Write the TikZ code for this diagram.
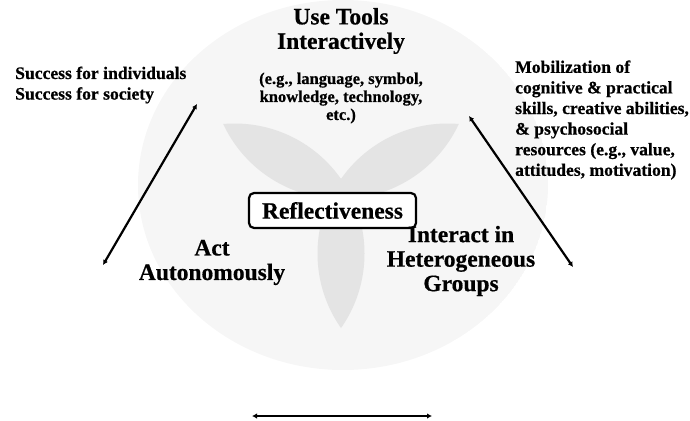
\documentclass[tikz,border=0pt]{standalone}
\usepackage{fontspec}
\setmainfont{Liberation Serif}[BoldFeatures={FakeBold=0.6}]
\usetikzlibrary{arrows.meta}
\begin{document}
\begin{tikzpicture}[x=1pt,y=-1pt,
  head/.style={font=\fontsize{23.5}{24.5}\selectfont\bfseries, align=center, inner sep=0pt},
  note/.style={font=\fontsize{17.6}{20.6}\selectfont\bfseries, align=left, inner sep=0pt, anchor=west},
  ex/.style={font=\fontsize{16.5}{18}\selectfont\bfseries, align=center, inner sep=0pt},
  link/.style={line width=2.2pt, {Latex[length=5pt,width=5.5pt]}-{Latex[length=5pt,width=5.5pt]}},
  refbox/.style={draw, line width=2.2pt, rounded corners=5pt, fill=white, minimum width=167pt, minimum height=35pt, inner sep=0pt, font=\fontsize{23.5}{24.5}\selectfont\bfseries},
  outer/.style={fill=gray!7},
  lens/.style={fill=gray!21}
]
\useasboundingbox (0,0) rectangle (690,420);
% background circles
\begin{scope}
  \clip (343,185) ellipse [x radius=205, y radius=185];
  \fill[outer] (343,185) ellipse [x radius=205, y radius=185];
  \begin{scope}
    \clip (341,69) circle [radius=130];
    \fill[lens] (234.5,253.5) circle [radius=130];
    \fill[lens] (447.5,253.5) circle [radius=130];
  \end{scope}
  \begin{scope}
    \clip (234.5,253.5) circle [radius=130];
    \fill[lens] (447.5,253.5) circle [radius=130];
  \end{scope}
\end{scope}
% texts
\node[head] (tools) at (341,31) {Use Tools\\Interactively};
\node[ex] (examples) at (341,98) {(e.g., language, symbol,\\knowledge, technology,\\etc.)};
\node[refbox] (reflect) at (332.5,210.5) {Reflectiveness};
\node[head] (auto) at (212,262.5) {Act\\Autonomously};
\node[head] (groups) at (461,261) {Interact in\\Heterogeneous\\Groups};
\node[note] (success) at (15,85) {Success for individuals\\Success for society};
\node[note] (mobil) at (515,120) {Mobilization of\\cognitive \& practical\\skills, creative abilities,\\\& psychosocial\\resources (e.g., value,\\attitudes, motivation)};
% arrows
\coordinate (la) at (103,265);
\coordinate (lb) at (197,104);
\coordinate (ra) at (469,116);
\coordinate (rb) at (573,267);
\coordinate (ba) at (252,416);
\coordinate (bb) at (432,416);
\draw[link] (la) -- (lb);
\draw[link] (ra) -- (rb);
\draw[link] (ba) -- (bb);
\end{tikzpicture}
\end{document}
